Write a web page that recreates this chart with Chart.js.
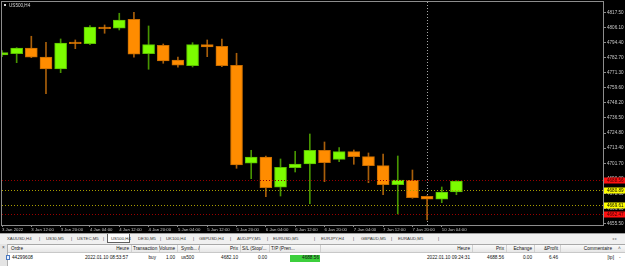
<!DOCTYPE html>
<html>
<head>
<meta charset="utf-8">
<script src="https://cdn.jsdelivr.net/npm/chart.js@4.4.1/dist/chart.umd.min.js"></script>
<style>
  html, body { margin: 0; padding: 0; }
  body { width: 625px; height: 266px; overflow: hidden; position: relative; background: #fff;
         font-family: "Liberation Sans", Arial, sans-serif; }
  #wrap { position: absolute; left: 0; top: 0; width: 625px; height: 233px; background: #000; }
  #title { position: absolute; left: 9px; top: 2.6px; font-size: 4.6px; color: #d8d8d8; white-space: nowrap; }
  #icon { position: absolute; left: 4px; top: 4px; width: 2px; height: 2px; background: #d8d8d8; }
  #tabs { position: absolute; left: 0; top: 233px; width: 625px; height: 11px; background: #f0f0f0;
          border-top: 1px solid #a0a0a0; box-sizing: border-box; }
  #term { position: absolute; left: 0; top: 244px; width: 625px; height: 22px; background: #fff; }
  #side { position: absolute; left: 0; top: 0; width: 8px; height: 22px; background: #e4e4e4; border-right: 1px solid #b0b0b0; box-sizing: border-box; }
  #hdr { position: absolute; left: 8px; top: 0; width: 617px; height: 9px; background: linear-gradient(#fafafa, #e6e6e6);
         border-top: 1px solid #a8a8a8; border-bottom: 1px solid #c8c8c8; box-sizing: border-box; }
  .t { position: absolute; white-space: nowrap; color: #111; line-height: 1; }
  .tab { font-size: 4.3px; color: #333; }
  .cell { font-size: 4.7px; }
  .sep { position: absolute; width: 1px; background: #d0d0d0; }
</style>
</head>
<body>
<div id="wrap"><canvas id="chart"></canvas></div>
<div id="icon"></div>
<div id="title">US500,H4</div>
<div id="tabs"></div>
<div id="term"><div id="side"></div><div id="hdr"></div></div>
<script>
// H4 candles, 3 Jan 2022 04:00 .. 10 Jan 08:00
const candleTimes = ['3 Jan 04:00', '3 Jan 08:00', '3 Jan 12:00', '3 Jan 16:00', '3 Jan 20:00',
  '4 Jan 00:00', '4 Jan 04:00', '4 Jan 08:00', '4 Jan 12:00', '4 Jan 16:00', '4 Jan 20:00',
  '5 Jan 00:00', '5 Jan 04:00', '5 Jan 08:00', '5 Jan 12:00', '5 Jan 16:00', '5 Jan 20:00',
  '6 Jan 00:00', '6 Jan 04:00', '6 Jan 08:00', '6 Jan 12:00', '6 Jan 16:00', '6 Jan 20:00',
  '7 Jan 00:00', '7 Jan 04:00', '7 Jan 08:00', '7 Jan 12:00', '7 Jan 16:00', '7 Jan 20:00',
  '10 Jan 00:00', '10 Jan 04:00', '10 Jan 08:00'];
const opens  = [4784.96, 4785.96, 4790.35, 4783.43, 4774.20, 4794.96, 4793.66, 4806.50, 4805.50, 4812.42, 4785.96,
  4792.43, 4781.12, 4776.73, 4792.89, 4791.66, 4777.04, 4701.66, 4706.50, 4683.20, 4698.27, 4701.12,
  4711.66, 4704.73, 4710.58, 4706.73, 4699.81, 4685.20, 4688.58, 4676.27, 4673.97, 4679.58];
const highs  = [4788.27, 4790.60, 4799.35, 4794.73, 4797.27, 4796.50, 4807.50, 4808.04, 4817.04, 4817.81, 4807.27,
  4793.42, 4783.43, 4794.42, 4796.50, 4797.27, 4786.27, 4711.66, 4707.27, 4704.97, 4710.89, 4724.20,
  4718.04, 4713.66, 4711.89, 4709.58, 4708.81, 4707.27, 4696.50, 4676.60, 4683.43, 4688.30];
const lows   = [4783.66, 4779.04, 4782.90, 4755.19, 4771.35, 4789.81, 4792.89, 4801.66, 4804.19, 4783.20, 4773.96,
  4778.58, 4775.50, 4775.73, 4783.66, 4775.96, 4697.81, 4689.81, 4675.96, 4676.50, 4694.97, 4670.58,
  4687.50, 4702.89, 4700.89, 4686.73, 4677.50, 4662.66, 4674.73, 4658.04, 4671.35, 4677.50];
const closes = [4786.73, 4790.35, 4783.20, 4774.20, 4794.19, 4793.66, 4806.50, 4805.19, 4811.89, 4785.50, 4792.89,
  4780.35, 4777.04, 4792.89, 4791.12, 4776.73, 4700.35, 4706.50, 4682.89, 4698.58, 4701.12, 4711.66,
  4702.12, 4710.58, 4706.73, 4699.81, 4685.20, 4688.81, 4675.20, 4673.97, 4679.58, 4688.04];

// time axis labels, one every second candle
const timeTicks = ['3 Jan 2022', '3 Jan 12:00', '3 Jan 20:00', '4 Jan 04:00', '4 Jan 12:00', '4 Jan 20:00',
  '5 Jan 04:00', '5 Jan 12:00', '5 Jan 20:00', '6 Jan 04:00', '6 Jan 12:00', '6 Jan 20:00',
  '7 Jan 04:00', '7 Jan 12:00', '7 Jan 20:00', '10 Jan 04:00'];
const priceTicks = [4817.50, 4806.10, 4794.40, 4782.70, 4771.30, 4759.60, 4748.20, 4736.50,
  4724.80, 4713.40, 4701.70, 4690.00, 4678.60, 4666.90, 4655.50];

// order lines (take profit / entry levels) and the week separator
const levelPrices = [4688.56, 4680.89, 4669.61, 4662.47];
const levelColors = ['#ff1010', '#ffff00', '#ffff00', '#ff1010'];
const weekStart = 29;

const futureSlots = 10;
const labels = candleTimes.concat(Array(futureSlots).fill(''));

const up = closes.map((c, i) => c >= opens[i]);
const bodyFill = up.map(u => u ? '#7cfc00' : '#ff8c00');
const bodyEdge = up.map(u => u ? '#5cbf00' : '#c76c00');
const wickCol = up.map(u => u ? '#479400' : '#a95f0a');

const fontFam = '"Liberation Sans", Arial, sans-serif';

const overlay = {
  id: 'overlay',
  beforeDatasetsDraw(chart) {
    const {ctx, chartArea: a, scales: {x}} = chart;
    ctx.save();
    ctx.lineWidth = 1;
    ctx.setLineDash([1, 2]);
    const sx = Math.round(x.getPixelForValue(weekStart)) + 0.5;
    ctx.strokeStyle = '#a8a8a8';
    ctx.beginPath(); ctx.moveTo(sx, a.top); ctx.lineTo(sx, a.bottom); ctx.stroke();
    ctx.restore();
  },
  afterDatasetsDraw(chart) {
    const {ctx, chartArea: a, scales: {y}} = chart;
    ctx.save();
    ctx.lineWidth = 1;
    ctx.setLineDash([1, 2]);
    levelPrices.forEach((p, i) => {
      const py = Math.round(y.getPixelForValue(p)) + 0.5;
      ctx.strokeStyle = levelColors[i] === '#ffff00' ? '#a89e00' : '#9a0000';
      ctx.beginPath(); ctx.moveTo(a.left, py); ctx.lineTo(a.right, py); ctx.stroke();
    });
    ctx.setLineDash([]);
    ctx.strokeStyle = '#8c8c8c';
    ctx.strokeRect(a.left - 0.5, a.top - 0.5, a.right - a.left + 1, a.bottom - a.top + 1);
    ctx.restore();
  },
  afterDraw(chart) {
    const {ctx, chartArea: a, scales: {y}} = chart;
    ctx.save();
    ctx.font = '4.6px ' + fontFam;
    ctx.textBaseline = 'middle';
    levelPrices.forEach((p, i) => {
      const py = y.getPixelForValue(p);
      ctx.fillStyle = levelColors[i];
      ctx.fillRect(a.right + 1, Math.round(py) - 2.5, 21, 6);
      ctx.fillStyle = levelColors[i] === '#ffff00' ? '#000' : '#3a0000';
      ctx.fillText(p.toFixed(2), a.right + 4, Math.round(py) + 0.5);
    });
    ctx.restore();
  }
};

new Chart(document.getElementById('chart'), {
  type: 'bar',
  data: {
    labels: labels,
    datasets: [{
      label: 'wick',
      data: lows.map((l, i) => [l, highs[i]]),
      backgroundColor: wickCol,
      barThickness: 1,
      grouped: false,
      order: 2
    }, {
      label: 'body',
      data: opens.map((o, i) => [o, closes[i]]),
      backgroundColor: bodyFill,
      borderColor: bodyEdge,
      borderWidth: 1,
      borderSkipped: false,
      barThickness: 12,
      grouped: false,
      order: 1
    }]
  },
  options: {
    responsive: true,
    maintainAspectRatio: false,
    animation: false,
    layout: { padding: { left: 2, top: 2, right: 0, bottom: 0 } },
    plugins: { legend: { display: false }, tooltip: { enabled: false } },
    scales: {
      x: {
        type: 'category',
        offset: false,
        border: { display: false },
        grid: { display: true, offset: false, drawOnChartArea: false, drawTicks: true, tickLength: 2, color: '#8c8c8c' },
        ticks: {
          autoSkip: false, maxRotation: 0, minRotation: 0, padding: 0.5, align: 'start',
          color: '#c8c8c8', font: { size: 4.3, family: fontFam },
          callback: (v, i, ticks) => timeTicks[ticks[i].value / 2]
        },
        afterBuildTicks: s => { s.ticks = s.ticks.filter(t => t.value % 2 === 0 && t.value / 2 < timeTicks.length); },
        afterFit: s => { s.height = 8; s.paddingLeft = 0; s.paddingRight = 0; }
      },
      y: {
        position: 'right',
        min: 4654.2,
        max: 4825.7,
        border: { display: false },
        grid: { display: true, drawOnChartArea: false, drawTicks: true, tickLength: 3, color: '#8c8c8c' },
        ticks: {
          padding: 1, color: '#c8c8c8', font: { size: 4.6, family: fontFam },
          callback: v => Number(v).toFixed(2)
        },
        afterBuildTicks: s => { s.ticks = priceTicks.map(v => ({ value: v })); },
        afterFit: s => { s.width = 22; s.paddingTop = 0; s.paddingBottom = 0; }
      }
    }
  },
  plugins: [overlay]
});

// terminal tabs and order row
const tabNames = ['XAUUSD,H4', 'US30,M5', 'USTEC,M5', 'US500,H4', 'DE30,M5', 'UK100,H4', 'GBPUSD,H4',
  'AUDJPY,M5', 'EURUSD,M5', 'EURJPY,H4', 'GBPAUD,M5', 'EURAUD,M5'];
const tabLeft = [7, 46, 77, 111, 138, 166, 199, 237, 273, 321, 361, 398];
const tabSeps = [39, 71, 103, 160, 193, 230, 267, 314, 353, 391, 438];

function put(parent, text, x, y, align, cls) {
  const el = document.createElement('div');
  el.className = 't ' + cls;
  el.textContent = text;
  el.style.top = y + 'px';
  if (align === 'r') el.style.right = (625 - x) + 'px'; else el.style.left = x + 'px';
  parent.appendChild(el);
  return el;
}

const tabs = document.getElementById('tabs');
const act = document.createElement('div');
act.style.cssText = 'position:absolute;left:107px;top:0px;width:23px;height:9px;background:#fff;border:1px solid #606060;border-top:none;box-sizing:border-box';
tabs.appendChild(act);
tabNames.forEach((n, i) => put(tabs, n, tabLeft[i], 2.8, 'l', 'tab'));
tabSeps.forEach(x => put(tabs, '|', x, 2.5, 'l', 'tab'));
put(tabs, '\u25C2 \u25B8', 612, 2.5, 'l', 'tab').style.color = '#888';

const term = document.getElementById('term');
const header = [['Ordre', 11, 'l'], ['Heure', 129, 'r'], ['Transaction', 133, 'l'], ['Volume', 175, 'r'],
  ['Symb...   /', 181, 'l'], ['Prix', 238, 'r'], ['S/L (Stop/...', 242, 'l'], ['T/P (Pren...', 271, 'l'],
  ['Heure', 470, 'r'], ['Prix', 504, 'r'], ['Echange', 532, 'r'], ['&Profit', 558, 'r'], ['Commentaire', 612, 'r']];
const rowCells = [['44299608', 12, 'l'], ['2022.01.10 08:53:57', 128, 'r'], ['buy', 156, 'r'], ['1.00', 175, 'r'],
  ['us500', 194, 'r'], ['4682.10', 238, 'r'], ['0.00', 267, 'r'], ['4688.56', 319, 'r'],
  ['2022.01.10 09:24:31', 470, 'r'], ['4688.56', 504, 'r'], ['0.00', 532, 'r'], ['6.46', 558, 'r'], ['[tp]', 614, 'r']];
const colSeps = [131, 159, 177, 199, 240, 269, 320, 472, 506, 534, 560];

const tp = document.createElement('div');
tp.style.cssText = 'position:absolute;left:290px;top:10.5px;width:30px;height:7px;background:#3ccf3c';
term.appendChild(tp);
colSeps.forEach(x => {
  const s = document.createElement('div');
  s.className = 'sep'; s.style.left = x + 'px'; s.style.top = '1px'; s.style.height = '7px';
  term.appendChild(s);
});
header.forEach(c => put(term, c[0], c[1], 2.5, c[2], 'cell'));
rowCells.forEach(c => put(term, c[0], c[1], 11.5, c[2], 'cell'));
put(term, '\u00D7', 2, 2, 'l', 'cell').style.color = '#444';
put(term, '\u02C4', 618, 2.5, 'l', 'cell').style.color = '#444';
put(term, '-', 619, 11.5, 'l', 'cell').style.color = '#444';
const doc = document.createElement('div');
doc.style.cssText = 'position:absolute;left:6px;top:11px;width:4px;height:5px;background:#e8f0ff;border:1px solid #4a78c0;box-sizing:border-box';
term.appendChild(doc);
</script>
</body>
</html>
